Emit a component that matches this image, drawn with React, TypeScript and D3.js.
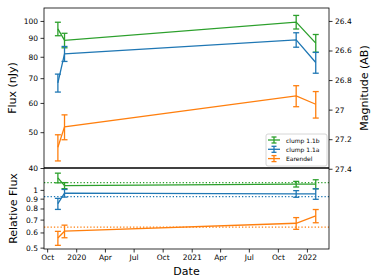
import React, { useEffect, useRef } from 'react';
import * as d3 from 'd3';

// observation epochs
const obsDates = ['2019-11-04', '2019-11-25', '2021-11-28', '2022-01-29'];

// flux in nJy
const clump11bFlux = [95.2, 88.6, 99.3, 87.1];
const clump11bErr = [4.0, 4.0, 4.2, 4.8];
const clump11aFlux = [68.0, 81.5, 88.9, 77.2];
const clump11aErr = [3.8, 3.8, 4.0, 5.0];
const earendelFlux = [45.5, 51.7, 62.7, 59.5];
const earendelErr = [3.7, 4.0, 4.1, 4.9];

// relative flux
const clump11bRel = [1.155, 1.053, 1.071, 1.071];
const clump11bRelErr = [0.067, 0.038, 0.036, 0.058];
const clump11aRel = [0.847, 0.961, 0.953, 0.953];
const clump11aRelErr = [0.056, 0.044, 0.038, 0.06];
const earendelRel = [0.561, 0.609, 0.67, 0.732];
const earendelRelErr = [0.047, 0.046, 0.047, 0.058];
const refLevels = [1.092, 0.923, 0.639];

const seriesNames = ['clump 1.1b', 'clump 1.1a', 'Earendel'];
const seriesColors = ['#2ca02c', '#1f77b4', '#ff7f0e'];

const fluxTicks = [40, 50, 60, 70, 80, 90, 100];
const magTicks = [26.4, 26.6, 26.8, 27, 27.2, 27.4];
const relTicks = [0.5, 0.6, 0.7, 0.8, 0.9, 1];

const FONT = 'DejaVu Sans, sans-serif';

const App: React.FC = () => {
  const ref = useRef<SVGSVGElement | null>(null);

  useEffect(() => {
    const svg = d3.select(ref.current);
    svg.selectAll('*').remove();

    const left = 44;
    const right = 329;
    const top = 8;
    const mid = 168;
    const bottom = 249;

    const dates = obsDates.map(d => new Date(d + 'T00:00:00Z'));
    const x = d3.scaleUtc()
      .domain([new Date('2019-09-21T00:00:00Z'), new Date('2022-03-12T00:00:00Z')])
      .range([left, right]);

    const yFlux = d3.scaleLog().domain([40, 108.4]).range([mid, top]);
    const mag = (f: number) => 31.4 - 2.5 * Math.log10(f);
    const yMag = d3.scaleLinear().domain([mag(40), mag(108.4)]).range([mid, top]);
    const yRel = d3.scaleLog().domain([0.492, 1.3]).range([bottom, mid]);

    const fluxSeries = [
      { v: clump11bFlux, e: clump11bErr },
      { v: clump11aFlux, e: clump11aErr },
      { v: earendelFlux, e: earendelErr },
    ];
    const relSeries = [
      { v: clump11bRel, e: clump11bRelErr },
      { v: clump11aRel, e: clump11aRelErr },
      { v: earendelRel, e: earendelRelErr },
    ];

    const drawPanel = (series: { v: number[]; e: number[] }[], y: d3.ScaleLogarithmic<number, number>) => {
      series.forEach((s, i) => {
        const color = seriesColors[i];
        const g = svg.append('g');
        const line = d3.line<number>()
          .x((_, j) => x(dates[j]))
          .y(d => y(d));
        g.append('path')
          .datum(s.v)
          .attr('fill', 'none')
          .attr('stroke', color)
          .attr('stroke-width', 1.3)
          .attr('d', line);
        s.v.forEach((v, j) => {
          const cx = x(dates[j]);
          const y0 = y(v - s.e[j]);
          const y1 = y(v + s.e[j]);
          g.append('line').attr('x1', cx).attr('x2', cx).attr('y1', y0).attr('y2', y1)
            .attr('stroke', color).attr('stroke-width', 1.3);
          [y0, y1].forEach(yy => {
            g.append('line').attr('x1', cx - 3).attr('x2', cx + 3).attr('y1', yy).attr('y2', yy)
              .attr('stroke', color).attr('stroke-width', 1.3);
          });
        });
      });
    };

    // top panel
    drawPanel(fluxSeries, yFlux);

    // bottom panel reference levels
    refLevels.forEach((r, i) => {
      svg.append('line')
        .attr('x1', left).attr('x2', right)
        .attr('y1', yRel(r)).attr('y2', yRel(r))
        .attr('stroke', seriesColors[i])
        .attr('stroke-width', 1.3)
        .attr('stroke-dasharray', '1.3,2');
    });
    drawPanel(relSeries, yRel);

    // frames
    svg.append('rect').attr('x', left).attr('y', top).attr('width', right - left).attr('height', bottom - top)
      .attr('fill', 'none').attr('stroke', '#000').attr('stroke-width', 0.8);
    svg.append('line').attr('x1', left).attr('x2', right).attr('y1', mid).attr('y2', mid)
      .attr('stroke', '#000').attr('stroke-width', 1.5);

    const styleAxis = (g: d3.Selection<SVGGElement, unknown, null, undefined>) => {
      g.select('.domain').remove();
      g.selectAll('.tick line').attr('stroke', '#000').attr('stroke-width', 0.8);
      g.selectAll('.tick text').attr('font-family', FONT).attr('font-size', 7.5).attr('fill', '#000');
    };

    svg.append('g')
      .attr('transform', `translate(${left},0)`)
      .call(d3.axisLeft(yFlux).tickValues(fluxTicks).tickFormat(d => String(d)).tickSize(3.5).tickPadding(2.5))
      .call(styleAxis);

    svg.append('g')
      .attr('transform', `translate(${right},0)`)
      .call(d3.axisRight(yMag).tickValues(magTicks).tickFormat(d => String(d)).tickSize(3.5).tickPadding(2.5))
      .call(styleAxis);

    svg.append('g')
      .attr('transform', `translate(${left},0)`)
      .call(d3.axisLeft(yRel).tickValues(relTicks).tickFormat(d => String(d)).tickSize(3.5).tickPadding(2.5))
      .call(styleAxis);

    const fmt = (d: Date) => (d.getUTCMonth() === 0 ? d3.utcFormat('%Y')(d) : d3.utcFormat('%b')(d));
    svg.append('g')
      .attr('transform', `translate(0,${bottom})`)
      .call(d3.axisBottom(x).ticks(d3.utcMonth.every(3)).tickFormat(d => fmt(d as Date)).tickSize(3.5).tickPadding(2.5))
      .call(styleAxis);

    // axis titles
    const label = (txt: string, lx: number, ly: number, rot: number) => {
      svg.append('text')
        .attr('transform', `translate(${lx},${ly}) rotate(${rot})`)
        .attr('text-anchor', 'middle')
        .attr('dominant-baseline', 'central')
        .attr('font-family', FONT)
        .attr('font-size', 11)
        .text(txt);
    };
    label('Flux (nJy)', 12.5, 88, -90);
    label('Relative Flux', 13, 208.5, -90);
    label('Magnitude (AB)', 364, 88, -90);
    label('Date', (left + right) / 2, 271, 0);

    // legend
    const lg = svg.append('g').attr('transform', 'translate(266,134)');
    lg.append('rect').attr('width', 61).attr('height', 32).attr('rx', 2)
      .attr('fill', '#fff').attr('fill-opacity', 0.8).attr('stroke', '#ccc').attr('stroke-width', 0.8);
    seriesNames.forEach((name, i) => {
      const ly = 6 + i * 9.3;
      const c = seriesColors[i];
      lg.append('line').attr('x1', 2).attr('x2', 14).attr('y1', ly).attr('y2', ly).attr('stroke', c).attr('stroke-width', 1.3);
      lg.append('line').attr('x1', 8).attr('x2', 8).attr('y1', ly - 3).attr('y2', ly + 3).attr('stroke', c).attr('stroke-width', 1.3);
      [ly - 3, ly + 3].forEach(yy => {
        lg.append('line').attr('x1', 5.5).attr('x2', 10.5).attr('y1', yy).attr('y2', yy).attr('stroke', c).attr('stroke-width', 1.3);
      });
      lg.append('text').attr('x', 20).attr('y', ly).attr('dominant-baseline', 'central')
        .attr('font-family', FONT).attr('font-size', 6).attr('fill', '#000').text(name);
    });
  }, []);

  return (
    <svg ref={ref} width={374} height={280}
      style={{ position: 'absolute', left: 0, top: 0, background: '#fff' }} />
  );
};

export default App;
